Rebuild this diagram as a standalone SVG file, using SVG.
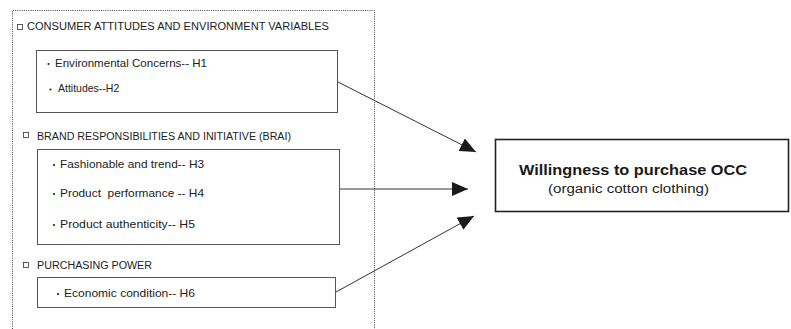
<svg xmlns="http://www.w3.org/2000/svg" width="791" height="329" viewBox="0 0 791 329">
  <defs>
    <marker id="head" markerUnits="userSpaceOnUse" markerWidth="17" markerHeight="15" refX="16" refY="7" orient="auto">
      <path d="M0,0 L16,7 L0,14 Z" fill="#1a1a1a"/>
    </marker>
  </defs>
  <style>
    .frame { fill: none; stroke: #444; stroke-width: 1; stroke-dasharray: 1 1.2; }
    .box { fill: #fff; stroke: #555; stroke-width: 1; }
    .target { fill: #fff; stroke: #222; stroke-width: 1.6; }
    .sq { fill: none; stroke: #333; stroke-width: 0.8; }
    .dot { fill: #222; }
    .head { font-family: "Liberation Sans", Arial, sans-serif; font-size: 10px; fill: #222; }
    .item { font-family: "Liberation Sans", Arial, sans-serif; font-size: 10.5px; fill: #222; }
    .title { font-family: "Liberation Sans", Arial, sans-serif; font-size: 14.5px; font-weight: bold; fill: #1a1a1a; }
    .sub { font-family: "Liberation Sans", Arial, sans-serif; font-size: 12px; fill: #222; }
    .link { fill: none; stroke: #333; stroke-width: 1; marker-end: url(#head); }
  </style>

  <!-- dotted frame around the predictor groups (open at the bottom) -->
  <path class="frame" d="M12.5,329 V10.5 H374.5 V329"/>

  <!-- group 1 -->
  <g id="consumer-attitudes">
    <rect class="sq" x="17.5" y="24.5" width="5" height="5"/>
    <text class="head" x="27" y="30" textLength="302" lengthAdjust="spacingAndGlyphs">CONSUMER ATTITUDES AND ENVIRONMENT VARIABLES</text>
    <rect class="box" x="36.5" y="50.5" width="301" height="62"/>
    <circle class="dot" cx="48.5" cy="64" r="1.1"/>
    <text class="item" x="55" y="67" textLength="152" lengthAdjust="spacingAndGlyphs">Environmental Concerns-- H1</text>
    <circle class="dot" cx="50.5" cy="89.5" r="1.1"/>
    <text class="item" x="58" y="92">Attitudes--H2</text>
  </g>

  <!-- group 2 -->
  <g id="brand-responsibilities">
    <rect class="sq" x="23.5" y="132.5" width="5" height="5"/>
    <text class="head" x="37" y="140" textLength="254" lengthAdjust="spacingAndGlyphs">BRAND RESPONSIBILITIES AND INITIATIVE (BRAI)</text>
    <rect class="box" x="37.5" y="149.5" width="302" height="95"/>
    <circle class="dot" cx="54" cy="165" r="1.1"/>
    <text class="item" x="60" y="168" textLength="144" lengthAdjust="spacingAndGlyphs">Fashionable and trend-- H3</text>
    <circle class="dot" cx="54" cy="194" r="1.1"/>
    <text class="item" x="60" y="197" textLength="144" lengthAdjust="spacingAndGlyphs" xml:space="preserve">Product  performance -- H4</text>
    <circle class="dot" cx="54" cy="225" r="1.1"/>
    <text class="item" x="60" y="228" textLength="135" lengthAdjust="spacingAndGlyphs">Product authenticity-- H5</text>
  </g>

  <!-- group 3 -->
  <g id="purchasing-power">
    <rect class="sq" x="23.5" y="262.5" width="5" height="5"/>
    <text class="head" x="37" y="269" textLength="115" lengthAdjust="spacingAndGlyphs">PURCHASING POWER</text>
    <rect class="box" x="37.5" y="277.5" width="298" height="30"/>
    <circle class="dot" cx="58" cy="294" r="1.1"/>
    <text class="item" x="64" y="297" textLength="131" lengthAdjust="spacingAndGlyphs">Economic condition-- H6</text>
  </g>

  <!-- outcome -->
  <g id="willingness">
    <rect class="target" x="495.5" y="139.5" width="293" height="72"/>
    <text class="title" x="519" y="175" textLength="228" lengthAdjust="spacingAndGlyphs">Willingness to purchase OCC</text>
    <text class="sub" x="548" y="193" textLength="161" lengthAdjust="spacingAndGlyphs">(organic cotton clothing)</text>
  </g>

  <!-- connectors -->
  <g id="connectors">
    <line class="link" x1="338" y1="82" x2="476" y2="152"/>
    <line class="link" x1="340" y1="189" x2="468" y2="189"/>
    <line class="link" x1="336" y1="292" x2="474" y2="216"/>
  </g>
</svg>
